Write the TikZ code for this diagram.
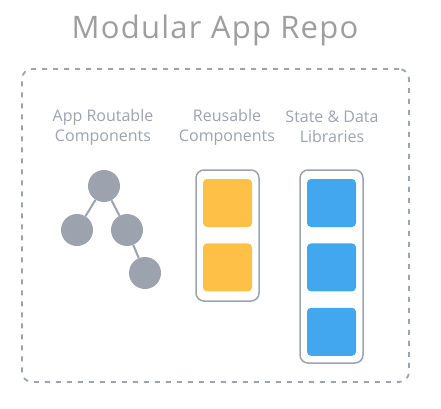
\documentclass[tikz,border=0pt]{standalone}
\usepackage{fontspec}
\setmainfont{Open Sans}
\newfontfamily\titlefont[LetterSpace=4]{Open Sans}
\usetikzlibrary{positioning}
\definecolor{CGray}{HTML}{9CA3AF}
\definecolor{CTitle}{HTML}{9E9E9E}
\definecolor{CAmber}{HTML}{FFC048}
\definecolor{CBlue}{HTML}{42A7EE}

\begin{document}
\begin{tikzpicture}[
    x=1pt, y=-1pt,
    lbl/.style={font=\fontsize{16}{20}\selectfont, text=CGray, align=center},
    leaf/.style={circle, fill=CGray, minimum size=32pt, inner sep=0pt},
    holder/.style={draw=CGray, line width=1.5pt, rounded corners=8pt, inner sep=0pt, minimum width=63pt},
    tile/.style={rectangle, rounded corners=4pt, minimum width=49pt, minimum height=48pt, inner sep=0pt},
    link/.style={CGray, line width=2pt}
]
\useasboundingbox (0,0) rectangle (441,408);

% Title
\node[font=\titlefont\fontsize{31}{34}\selectfont, text=CTitle] (title) at (215,30.5) {Modular App Repo};

% Dashed repo frame
\node[draw=CGray, line width=1.8pt, dash pattern=on 5pt off 6pt, rounded corners=10pt,
      minimum width=387pt, minimum height=313pt] (repo) at (215.5,225.5) {};

% Column headings
\node[lbl] (routable) at (103,127) {App Routable\\Components};
\node[lbl] (reusable) at (227,127) {Reusable\\Components};
\node[lbl] (state) at (332,127) {State \& Data\\Libraries};

% Route tree
\node[leaf] (root) at (104,186) {};
\node[leaf] (left) at (77,230) {};
\node[leaf] (mid) at (127,230) {};
\node[leaf] (leafb) at (145,273) {};
\draw[link] (root) -- (left);
\draw[link] (root) -- (mid);
\draw[link] (mid) -- (leafb);

% Reusable components
\node[holder, minimum height=131pt] (reuse) at (227.5,235.5) {};
\node[tile, fill=CAmber] (r1) at (227.5,203) {};
\node[tile, fill=CAmber, below=16pt of r1] (r2) {};

% State and data libraries
\node[holder, minimum height=193pt] (libs) at (331.5,266.5) {};
\node[tile, fill=CBlue] (s1) at (331.5,203) {};
\node[tile, fill=CBlue, below=16pt of s1] (s2) {};
\node[tile, fill=CBlue, below=16pt of s2] (s3) {};
\end{tikzpicture}
\end{document}
